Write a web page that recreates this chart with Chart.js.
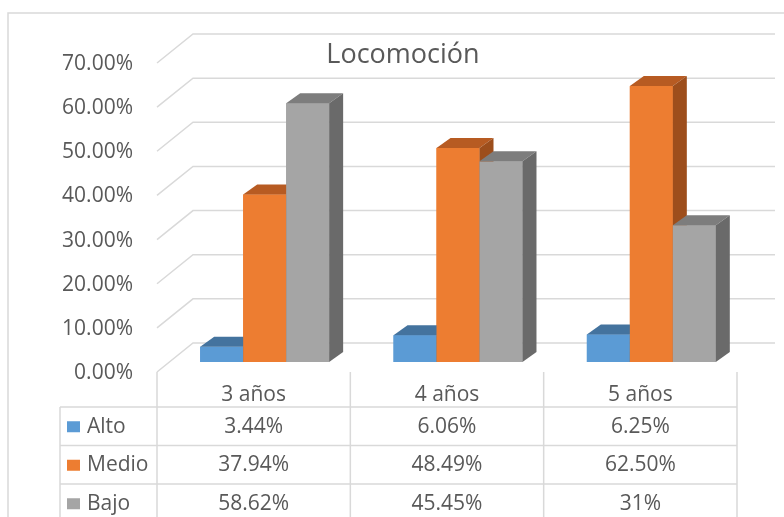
<!DOCTYPE html>
<html>
<head>
<meta charset="utf-8">
<script src="https://cdn.jsdelivr.net/npm/chart.js@4.4.0/dist/chart.umd.min.js"></script>
<style>
  html, body { margin: 0; padding: 0; background: #fff; }
  canvas { display: block; }
</style>
</head>
<body>
<canvas id="locomocion" width="784" height="517"></canvas>
<script>
// Data
const categories = ['3 años', '4 años', '5 años'];
const seriesNames = ['Alto', 'Medio', 'Bajo'];
const alto = [3.44, 6.06, 6.25];
const medio = [37.94, 48.49, 62.5];
const bajo = [58.62, 45.45, 31];
const yTicks = [0, 10, 20, 30, 40, 50, 60, 70];

// Styling
const frontColors = ['#5B9BD5', '#ED7D31', '#A5A5A5'];
const topColors = ['#44739E', '#B75B22', '#7D7D7D'];
const sideColors = ['#3B6690', '#9D4E1C', '#6A6A6A'];
const textColor = '#595959';
const lineColor = '#D9D9D9';
const FONT = '"Open Sans", sans-serif';

// fake 3D offsets (pixels, relative to the plane the bars stand in)
const DEPTH = { dx: 14, dy: -10 };   // bar top / side faces
const FRONT = { dx: -11, dy: 10 };   // front edge of the floor
const BACK = { dx: 25, dy: -19 };    // back wall

function fmt(v) {
  return Number.isInteger(v) ? v + '%' : v.toFixed(2) + '%';
}

// Back wall, floor diagonals, outer border and the data table
const wallAndTable = {
  id: 'wallAndTable',
  beforeDatasetsDraw(chart) {
    const ctx = chart.ctx;
    const ca = chart.chartArea;
    const y = chart.scales.y;
    ctx.save();
    ctx.strokeStyle = lineColor;
    ctx.lineWidth = 1.5;

    // outer border
    ctx.beginPath();
    ctx.moveTo(8, 517);
    ctx.lineTo(8, 13);
    ctx.lineTo(784, 13);
    ctx.stroke();

    // gridlines on the back wall with diagonal to the front
    yTicks.forEach(v => {
      const py = y.getPixelForValue(v);
      ctx.beginPath();
      ctx.moveTo(ca.left + FRONT.dx, py + FRONT.dy);
      ctx.lineTo(ca.left + BACK.dx, py + BACK.dy);
      ctx.lineTo(ca.right + 27, py + BACK.dy);
      ctx.stroke();
    });

    // data table
    const tLeft = ca.left + FRONT.dx;
    const colW = (ca.right - ca.left) / categories.length;
    const top = y.getPixelForValue(0) + FRONT.dy;
    const headH = 35;
    const rowH = 38.5;
    const legendLeft = 60;
    const tRight = tLeft + colW * categories.length;

    ctx.beginPath();
    for (let c = 0; c <= categories.length; c++) {
      const x = tLeft + c * colW;
      ctx.moveTo(x, top);
      ctx.lineTo(x, 517);
    }
    ctx.moveTo(legendLeft, top + headH);
    ctx.lineTo(legendLeft, 517);
    for (let r = 0; r <= seriesNames.length; r++) {
      const ry = top + headH + r * rowH;
      ctx.moveTo(legendLeft, ry);
      ctx.lineTo(tRight, ry);
    }
    ctx.stroke();

    ctx.fillStyle = textColor;
    ctx.font = '21px ' + FONT;
    ctx.textAlign = 'center';
    ctx.textBaseline = 'alphabetic';
    categories.forEach((cat, c) => {
      ctx.fillText(cat, tLeft + (c + 0.5) * colW, top + headH - 6);
    });

    chart.data.datasets.forEach((ds, r) => {
      const baseY = top + headH + (r + 1) * rowH - 13;
      const midY = top + headH + (r + 0.5) * rowH;
      ctx.fillStyle = frontColors[r];
      ctx.fillRect(67, midY - 5, 13, 11);
      ctx.fillStyle = textColor;
      ctx.textAlign = 'left';
      ctx.fillText(ds.label, 87, baseY);
      ctx.textAlign = 'center';
      ds.data.forEach((v, c) => {
        ctx.fillText(fmt(v), tLeft + (c + 0.5) * colW, baseY);
      });
    });
    ctx.restore();
  }
};

// Columns as 3D boxes, drawn left to right so the nearer faces overlap correctly
const boxes = {
  id: 'boxes',
  afterDatasetsDraw(chart) {
    const ctx = chart.ctx;
    ctx.save();
    const metas = chart.data.datasets.map((ds, d) => chart.getDatasetMeta(d));
    categories.forEach((cat, i) => {
      metas.forEach((meta, d) => {
        const el = meta.data[i];
        const { x, y, base, width } = el.getProps(['x', 'y', 'base', 'width'], true);
        const l = x - width / 2;
        const r = x + width / 2;
        ctx.fillStyle = frontColors[d];
        ctx.fillRect(l, y, width, base - y);
        ctx.fillStyle = topColors[d];
        ctx.beginPath();
        ctx.moveTo(l, y);
        ctx.lineTo(l + DEPTH.dx, y + DEPTH.dy);
        ctx.lineTo(r + DEPTH.dx, y + DEPTH.dy);
        ctx.lineTo(r, y);
        ctx.closePath();
        ctx.fill();
        ctx.fillStyle = sideColors[d];
        ctx.beginPath();
        ctx.moveTo(r, y);
        ctx.lineTo(r + DEPTH.dx, y + DEPTH.dy);
        ctx.lineTo(r + DEPTH.dx, base + DEPTH.dy);
        ctx.lineTo(r, base);
        ctx.closePath();
        ctx.fill();
      });
    });
    ctx.restore();
  },
  afterDraw(chart) {
    const ctx = chart.ctx;
    ctx.save();
    ctx.fillStyle = textColor;
    ctx.font = '27px ' + FONT;
    ctx.textAlign = 'center';
    ctx.textBaseline = 'alphabetic';
    ctx.fillText('Locomoción', 403, 63);
    ctx.restore();
  }
};

new Chart(document.getElementById('locomocion'), {
  type: 'bar',
  data: {
    labels: categories,
    datasets: [
      { label: seriesNames[0], data: alto, backgroundColor: frontColors[0] },
      { label: seriesNames[1], data: medio, backgroundColor: frontColors[1] },
      { label: seriesNames[2], data: bajo, backgroundColor: frontColors[2] }
    ]
  },
  options: {
    responsive: false,
    animation: false,
    layout: {
      padding: { left: 60, right: 36, top: 53, bottom: 155 }
    },
    datasets: {
      bar: {
        categoryPercentage: 0.667,
        barPercentage: 1,
        borderWidth: 0
      }
    },
    plugins: {
      legend: { display: false },
      title: { display: false },
      tooltip: { enabled: false }
    },
    scales: {
      x: {
        display: false
      },
      y: {
        min: 0,
        max: 70,
        afterFit: (scale) => { scale.width = 108; },
        afterBuildTicks: (scale) => { scale.ticks = yTicks.map(v => ({ value: v })); },
        grid: { display: false, drawTicks: false },
        border: { display: false },
        ticks: {
          padding: 35,
          labelOffset: 11,
          color: textColor,
          font: { family: FONT, size: 21 },
          callback: (v) => v.toFixed(2) + '%'
        }
      }
    }
  },
  plugins: [wallAndTable, boxes]
});
</script>
</body>
</html>
